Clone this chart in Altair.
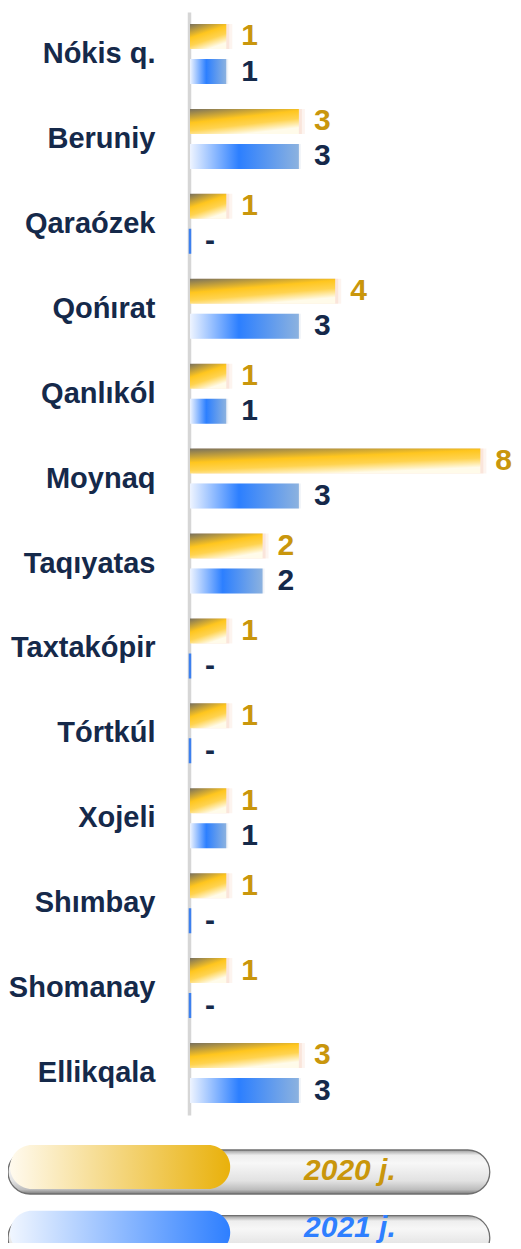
import altair as alt
import pandas as pd

categories = ["Nókis q.", "Beruniy", "Qaraózek", "Qońırat", "Qanlıkól", "Moynaq",
              "Taqıyatas", "Taxtakópir", "Tórtkúl", "Xojeli", "Shımbay", "Shomanay", "Ellikqala"]
values_2020 = [1, 3, 1, 4, 1, 8, 2, 1, 1, 1, 1, 1, 3]
values_2021 = [1, 3, 0, 3, 1, 3, 2, 0, 0, 1, 0, 0, 3]
series = ["2020 j.", "2021 j."]

rows = []
for c, a, b in zip(categories, values_2020, values_2021):
    rows.append({"cat": c, "series": series[0], "v": a, "label": str(a) if a else "-"})
    rows.append({"cat": c, "series": series[1], "v": b, "label": str(b) if b else "-"})
df = pd.DataFrame(rows)

FONT = "Liberation Sans"
GOLD_TEXT = "#c9960c"
NAVY = "#15294a"
BLUE_TEXT = "#2e7fff"
AXIS_X = 181  # pixel position of the value axis inside the panel


def grad(stops, x1, y1, x2, y2):
    return alt.LinearGradient(
        gradient="linear",
        stops=[alt.GradientStop(offset=o, color=c) for o, c in stops],
        x1=x1, y1=y1, x2=x2, y2=y2,
    )


gold_grad = grad([(0, "#77705f"), (0.45, "#ffc61e"), (0.7, "#ffd34f"), (1, "#fffbea")], 0, 0, 0.5, 1)
blue_grad = grad([(0, "#eef4ff"), (0.45, "#2c7fff"), (1, "#8cb2df")], 0, 0, 1, 0)

y_enc = alt.Y(
    "cat:N",
    scale=alt.Scale(domain=categories, paddingInner=0.293, paddingOuter=0.141),
    axis=alt.Axis(
        title=None, ticks=False, domainColor="#d6d6d6", domainWidth=3.5,
        labelFont=FONT, labelFontSize=29, labelFontWeight="bold",
        labelColor=NAVY, labelPadding=34, labelAlign="right", offset=-AXIS_X,
    ),
)
yoff_enc = alt.YOffset("series:N", scale=alt.Scale(domain=series, paddingInner=0.2857, paddingOuter=0))
x_enc = alt.X("v:Q", scale=alt.Scale(domain=[0, 8.9], range=[AXIS_X + 1, 505], nice=False, zero=True), axis=None)

base = alt.Chart(df).encode(y=y_enc, yOffset=yoff_enc, x=x_enc)

gold = base.transform_filter(alt.datum.series == series[0])
blue = base.transform_filter(alt.datum.series == series[1])

gold_sh2 = gold.mark_bar(fill="#fadacb", opacity=0.3, xOffset=6, yOffset=7)
gold_sh1 = gold.mark_bar(fill="#f6c2ad", opacity=0.3, xOffset=3, yOffset=4)
gold_bar = gold.mark_bar(fill=gold_grad)

blue_sh = blue.mark_bar(fill="#dde5f0", opacity=0.45, xOffset=2, yOffset=6)
blue_bar = blue.mark_bar(fill=blue_grad)
blue_zero = blue.transform_filter(alt.datum.v == 0).mark_bar(stroke="#3d80ee", strokeWidth=2.5, fill="#3d80ee")

labels = base.mark_text(
    align="left", baseline="middle", dx=15, font=FONT, fontSize=30, fontWeight="bold"
).encode(
    text="label:N",
    color=alt.Color("series:N", scale=alt.Scale(domain=series, range=[GOLD_TEXT, NAVY]), legend=None),
)

main = alt.layer(gold_sh2, gold_sh1, blue_sh, gold_bar, blue_bar, blue_zero, labels).properties(
    width=505, height=1103
)

# legend
leg_df = pd.DataFrame({"year": series})
ly = alt.Y("year:N", scale=alt.Scale(domain=series, range=[0, 109.7], paddingInner=0.33, paddingOuter=0), axis=None)
lx = alt.Scale(domain=[0, 100], nice=False)

gray_grad = grad([(0, "#9c9c9c"), (0.12, "#eeeeee"), (0.3, "#f7f7f7"), (0.7, "#e2e2e2"),
                  (0.9, "#bdbdbd"), (1, "#7a7a7a")], 0, 0, 0, 1)
gold_leg = grad([(0, "#fffaee"), (1, "#e9b10b")], 0, 0, 1, 0)
blue_leg = grad([(0, "#f0f6ff"), (1, "#2e7fff")], 0, 0, 1, 0)

lbase = alt.Chart(leg_df).encode(y=ly)
leg_gold = lbase.transform_filter(alt.datum.year == series[0])
leg_blue = lbase.transform_filter(alt.datum.year == series[1])

pill = lbase.mark_bar(cornerRadius=22, fill=gray_grad, stroke="#6f6f6f", strokeWidth=1.3, yOffset=5, clip=True).encode(
    x=alt.X(datum=0, type="quantitative", scale=lx, axis=None),
    x2=alt.X2(datum=95.4),
)
fill_gold = leg_gold.mark_bar(cornerRadius=22, fill=gold_leg, clip=True).encode(
    x=alt.X(datum=0.4, type="quantitative", scale=lx, axis=None),
    x2=alt.X2(datum=44),
)
fill_blue = leg_blue.mark_bar(cornerRadius=22, fill=blue_leg, clip=True).encode(
    x=alt.X(datum=0.4, type="quantitative", scale=lx, axis=None),
    x2=alt.X2(datum=44),
)
text_props = dict(font=FONT, fontSize=30, fontWeight="bold", fontStyle="italic",
                  align="center", baseline="middle", clip=True)
text_gold = leg_gold.mark_text(color=GOLD_TEXT, yOffset=4, **text_props).encode(
    x=alt.X(datum=67.7, type="quantitative", scale=lx, axis=None),
    text="year:N",
)
text_blue = leg_blue.mark_text(color=BLUE_TEXT, yOffset=-5, **text_props).encode(
    x=alt.X(datum=67.7, type="quantitative", scale=lx, axis=None),
    text="year:N",
)
legend = alt.layer(pill, fill_gold, fill_blue, text_gold, text_blue).properties(width=505, height=98)

chart = (
    alt.vconcat(main, legend, spacing=30)
    .resolve_scale(x="independent", y="independent", color="independent")
    .properties(padding={"left": 0, "top": 4, "right": 0, "bottom": 0})
    .configure_view(stroke=None)
)

chart.save("out.html", embed_options={"renderer": "svg", "actions": False})
